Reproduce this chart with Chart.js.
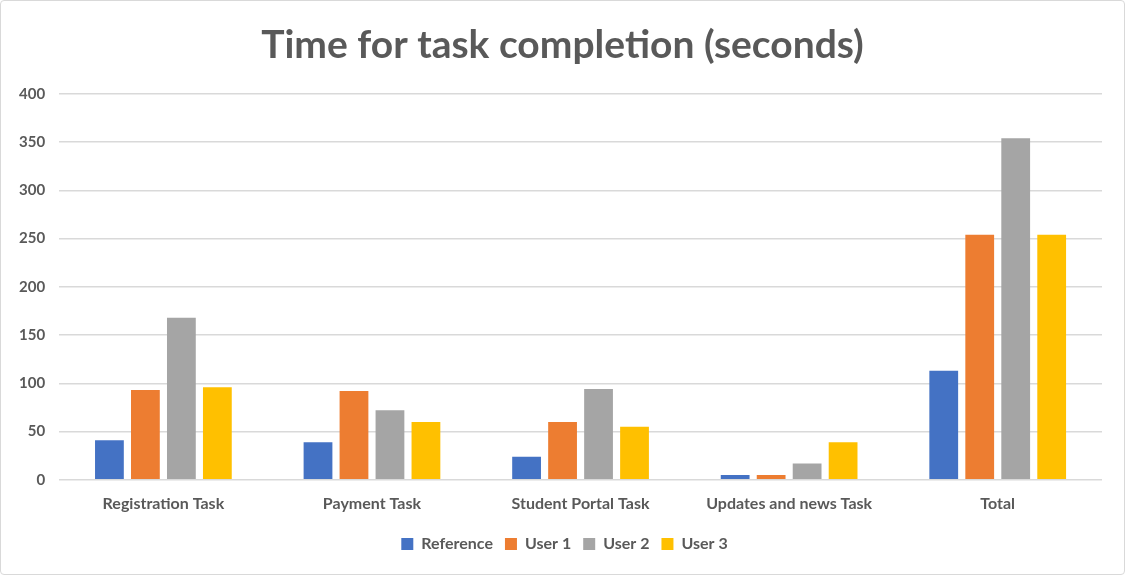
<!DOCTYPE html>
<html>
<head>
<meta charset="utf-8">
<script src="https://cdn.jsdelivr.net/npm/chart.js@4/dist/chart.umd.min.js"></script>
<style>
  html, body { margin: 0; padding: 0; background: #fff; }
  #wrap {
    position: absolute; left: 0; top: 0;
    width: 1123px; height: 573px;
    border: 1px solid #d9d9d9; border-radius: 4px;
  }
</style>
</head>
<body>
<div id="wrap"><canvas id="chart"></canvas></div>
<script>
// ─── Data ─────────────────────────────────────────────
const categories = ['Registration Task', 'Payment Task', 'Student Portal Task', 'Updates and news Task', 'Total'];
const referenceTimes = [41, 39, 24, 5, 113];
const user1Times     = [93, 92, 60, 5, 254];
const user2Times     = [168, 72, 94, 17, 354];
const user3Times     = [96, 60, 55, 39, 254];
const yTicks         = [0, 50, 100, 150, 200, 250, 300, 350, 400];

const FONT = "Lato, 'Open Sans', sans-serif";
const TEXT = '#595959';

function series(label, data, color) {
  return {
    label, data,
    backgroundColor: color,
    borderWidth: 0,
    categoryPercentage: 0.69,
    barPercentage: 0.8,
  };
}

// nudge title + legend so they centre on the whole canvas, not the padded box
const centerShift = {
  id: 'centerShift',
  afterLayout(chart) {
    const t = chart.titleBlock, l = chart.legend;
    if (t) { t.left += 9; t.right += 9; }
    if (l) { l.left += 11; l.right += 11; }
  },
};

const ctx = document.getElementById('chart').getContext('2d');
new Chart(ctx, {
  type: 'bar',
  data: {
    labels: categories,
    datasets: [
      series('Reference', referenceTimes, '#4472c4'),
      series('User 1', user1Times, '#ed7d31'),
      series('User 2', user2Times, '#a5a5a5'),
      series('User 3', user3Times, '#ffc000'),
    ],
  },
  plugins: [centerShift],
  options: {
    responsive: true,
    maintainAspectRatio: false,
    animation: false,
    layout: { padding: { left: 4, right: 22, top: 0, bottom: 12 } },
    plugins: {
      title: {
        display: true,
        text: 'Time for task completion (seconds)',
        color: TEXT,
        font: { family: FONT, size: 39, weight: 'bold' },
        padding: { top: 21, bottom: 25 },
      },
      legend: {
        position: 'bottom',
        labels: {
          color: TEXT,
          font: { family: FONT, size: 16, weight: 'bold' },
          boxWidth: 12, boxHeight: 12,
          padding: 12,
        },
      },
      tooltip: { enabled: false },
    },
    scales: {
      x: {
        grid: { display: false },
        border: { display: false },
        ticks: { color: TEXT, font: { family: FONT, size: 16, weight: 'bold' }, padding: 6 },
        afterFit: axis => { axis.height += 5; },
      },
      y: {
        min: 0, max: 400,
        afterBuildTicks: axis => { axis.ticks = yTicks.map(v => ({ value: v })); },
        grid: { color: '#d9d9d9', lineWidth: 1.5, drawTicks: false },
        border: { display: false },
        ticks: { color: TEXT, font: { family: FONT, size: 15, weight: 'bold' }, padding: 14 },
      },
    },
  },
});
</script>
</body>
</html>
